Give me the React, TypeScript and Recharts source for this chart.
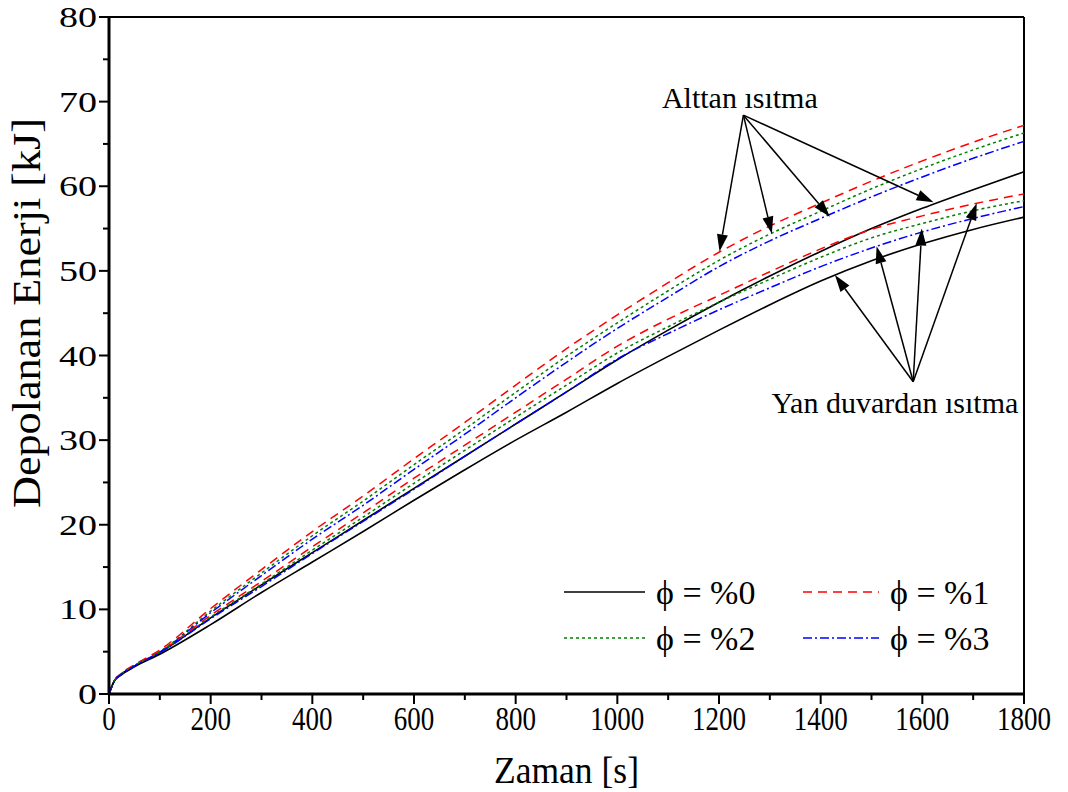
import {
  LineChart,
  Line,
  XAxis,
  YAxis,
  Label,
  Legend,
  ReferenceLine,
  ReferenceDot,
} from "recharts";

// time axis [s]
const time = [0, 10, 25, 50, 100, 200, 300, 400, 500, 600, 700, 800, 900, 1000, 1100, 1200, 1300, 1400, 1500, 1600, 1700, 1800];

// Alttan ısıtma (bottom heating)
const alttan0 = [0, 1.5, 2.4, 3.3, 4.9, 9.0, 12.9, 16.7, 20.5, 24.3, 28.1, 31.9, 35.7, 39.5, 43.0, 46.3, 49.4, 52.3, 55.0, 57.4, 59.6, 61.7];
const alttan1 = [0, 1.5, 2.45, 3.45, 5.2, 10.1, 14.7, 19.2, 23.4, 27.8, 32.1, 36.5, 40.8, 44.8, 48.6, 52.2, 55.3, 58.0, 60.6, 63.0, 65.2, 67.2];
const alttan2 = [0, 1.5, 2.4, 3.35, 5.0, 9.8, 14.3, 18.7, 22.8, 27.1, 31.3, 35.65, 39.9, 43.85, 47.65, 51.25, 54.35, 57.05, 59.7, 62.1, 64.3, 66.3];
const alttan3 = [0, 1.5, 2.35, 3.3, 4.95, 9.6, 14.0, 18.3, 22.3, 26.55, 30.7, 35.0, 39.2, 43.2, 46.9, 50.5, 53.55, 56.2, 58.75, 61.1, 63.3, 65.3];

// Yan duvardan ısıtma (side wall heating)
const yan0 = [0, 1.5, 2.3, 3.2, 4.7, 8.2, 12.0, 15.6, 19.2, 22.9, 26.5, 30.0, 33.3, 36.7, 39.9, 43.0, 46.0, 48.8, 51.2, 53.2, 54.9, 56.35];
const yan1 = [0, 1.5, 2.45, 3.4, 5.0, 9.3, 13.3, 17.4, 21.4, 25.5, 29.4, 33.3, 37.2, 41.1, 44.3, 47.1, 49.9, 52.6, 54.9, 56.5, 57.9, 59.1];
const yan2 = [0, 1.5, 2.4, 3.35, 4.95, 9.1, 13.0, 17.0, 20.9, 24.9, 28.8, 32.7, 36.5, 40.3, 43.4, 46.3, 49.0, 51.6, 53.9, 55.6, 57.1, 58.3];
const yan3 = [0, 1.5, 2.35, 3.3, 4.9, 8.9, 12.7, 16.6, 20.4, 24.2, 28.1, 31.9, 35.7, 39.6, 42.6, 45.4, 48.0, 50.5, 52.7, 54.6, 56.2, 57.6];

const xTicks = [0, 100, 200, 300, 400, 500, 600, 700, 800, 900, 1000, 1100, 1200, 1300, 1400, 1500, 1600, 1700, 1800];
const yTicks = [0, 5, 10, 15, 20, 25, 30, 35, 40, 45, 50, 55, 60, 65, 70, 75, 80];

const phiLabels = ["\u03d5 = %0", "\u03d5 = %1", "\u03d5 = %2", "\u03d5 = %3"];

// annotation anchors (data coordinates)
const alttanText = { x: 1241, y: 70.5 };
const alttanFrom = { x: 1248, y: 68.4 };
const alttanTips = [
  { x: 1201, y: 52.3 },
  { x: 1304, y: 54.4 },
  { x: 1418, y: 56.4 },
  { x: 1622, y: 58.1 },
];
const yanText = { x: 1546, y: 34.5 };
const yanFrom = { x: 1582, y: 36.9 };
const yanTips = [
  { x: 1428, y: 49.5 },
  { x: 1510, y: 52.9 },
  { x: 1599, y: 55.0 },
  { x: 1707, y: 58.0 },
];

const rows = time.map((t, i) => ({
  t,
  alttan0: alttan0[i],
  alttan1: alttan1[i],
  alttan2: alttan2[i],
  alttan3: alttan3[i],
  yan0: yan0[i],
  yan1: yan1[i],
  yan2: yan2[i],
  yan3: yan3[i],
}));

const FONT = '"Liberation Serif", "Times New Roman", serif';

const styles = [
  { color: "#000000", dash: undefined, width: 1.6 },
  { color: "#ff0000", dash: "9 6", width: 1.5 },
  { color: "#008000", dash: "3 3", width: 1.5 },
  { color: "#0000ff", dash: "9 3 2 3", width: 1.5 },
];

const series = [
  { key: "alttan0", phi: 0, legend: true },
  { key: "alttan1", phi: 1, legend: true },
  { key: "alttan2", phi: 2, legend: true },
  { key: "alttan3", phi: 3, legend: true },
  { key: "yan0", phi: 0, legend: false },
  { key: "yan1", phi: 1, legend: false },
  { key: "yan2", phi: 2, legend: false },
  { key: "yan3", phi: 3, legend: false },
];

const XTick = (props: any) => {
  const { x, y, payload } = props;
  const v = payload.value;
  const major = v % 200 === 0;
  const s = String(v);
  return (
    <g>
      <line x1={x} x2={x} y1={y} y2={y + (major ? 10 : 6)} stroke="#000" strokeWidth={2} />
      {major && (
        <text
          x={x}
          y={y + 36}
          textAnchor="middle"
          fontFamily={FONT}
          fontSize={34}
          textLength={13.5 * s.length}
          lengthAdjust="spacingAndGlyphs"
          fill="#000"
        >
          {s}
        </text>
      )}
    </g>
  );
};

const YTick = (props: any) => {
  const { x, y, payload } = props;
  const v = payload.value;
  const major = v % 10 === 0;
  const s = String(v);
  return (
    <g>
      <line x1={x} x2={x - (major ? 10 : 6)} y1={y} y2={y} stroke="#000" strokeWidth={2} />
      {major && (
        <text
          x={x - 12}
          y={y + 10}
          textAnchor="end"
          fontFamily={FONT}
          fontSize={29}
          textLength={19 * s.length}
          lengthAdjust="spacingAndGlyphs"
          fill="#000"
        >
          {s}
        </text>
      )}
    </g>
  );
};

const XTitle = (props: any) => {
  const vb = props.viewBox || { x: 109, y: 694, width: 915, height: 60 };
  return (
    <text
      x={vb.x + vb.width / 2}
      y={vb.y + 89}
      textAnchor="middle"
      fontFamily={FONT}
      fontSize={37}
      textLength={145}
      lengthAdjust="spacingAndGlyphs"
      fill="#000"
    >
      Zaman [s]
    </text>
  );
};

const YTitle = () => (
  <text
    x={40}
    y={313}
    transform="rotate(-90 40 313)"
    textAnchor="middle"
    fontFamily={FONT}
    fontSize={41}
    textLength={390}
    lengthAdjust="spacingAndGlyphs"
    fill="#000"
  >
    Depolanan Enerji [kJ]
  </text>
);

const Arrow = (props: any) => {
  const x1 = Number(props.x1);
  const y1 = Number(props.y1);
  const x2 = Number(props.x2);
  const y2 = Number(props.y2);
  const dx = x2 - x1;
  const dy = y2 - y1;
  const len = Math.hypot(dx, dy) || 1;
  const ux = dx / len;
  const uy = dy / len;
  const L = 17;
  const W = 5.5;
  const bx = x2 - ux * L;
  const by = y2 - uy * L;
  const pts = `${x2},${y2} ${bx - uy * W},${by + ux * W} ${bx + uy * W},${by - ux * W}`;
  return (
    <g>
      <line x1={x1} y1={y1} x2={bx} y2={by} stroke="#000" strokeWidth={1.5} />
      <polygon points={pts} fill="#000" />
    </g>
  );
};

const textShape = (label: string) => (props: any) => (
  <text
    x={props.cx}
    y={props.cy}
    textAnchor="middle"
    dominantBaseline="central"
    fontFamily={FONT}
    fontSize={30}
    fill="#000"
  >
    {label}
  </text>
);

const LegendBox = (props: any) => {
  const payload = (props.payload || []).filter((p: any) => p.type !== "none");
  return (
    <svg width={480} height={100}>
      {payload.map((entry: any, i: number) => {
        const s = series.find((d) => d.key === entry.dataKey);
        const st = styles[s ? s.phi : i];
        const col = i % 2;
        const row = Math.floor(i / 2);
        const lx = col === 0 ? 16 : 255;
        const lw = col === 0 ? 81 : 76;
        const ly = row === 0 ? 24 : 70;
        return (
          <g key={entry.dataKey}>
            <line x1={lx} x2={lx + lw} y1={ly} y2={ly} stroke={st.color} strokeDasharray={st.dash} strokeWidth={1.5} />
            <text
              x={lx + lw + 11}
              y={ly}
              dominantBaseline="central"
              fontFamily={FONT}
              fontSize={34}
              fill="#000"
            >
              {entry.value}
            </text>
          </g>
        );
      })}
    </svg>
  );
};

export default function App() {
  return (
    <div style={{ position: "absolute", left: 0, top: 0, width: 1068, height: 792 }}>
      <LineChart width={1068} height={792} data={rows} margin={{ top: 17, right: 44, left: 49, bottom: 38 }}>
        <XAxis
          dataKey="t"
          type="number"
          domain={[0, 1800]}
          ticks={xTicks}
          interval={0}
          tickSize={0}
          tickMargin={0}
          tickLine={false}
          axisLine={{ stroke: "#000", strokeWidth: 3 }}
          height={60}
          tick={XTick}
        >
          <Label content={XTitle} />
        </XAxis>
        <YAxis
          type="number"
          domain={[0, 80]}
          ticks={yTicks}
          interval={0}
          tickSize={0}
          tickMargin={0}
          tickLine={false}
          axisLine={{ stroke: "#000", strokeWidth: 3 }}
          width={60}
          tick={YTick}
        >
          <Label content={YTitle} />
        </YAxis>
        <ReferenceLine y={80} stroke="#000" strokeWidth={2} />
        <ReferenceLine x={1800} stroke="#000" strokeWidth={2} />

        {series.map((s) => (
          <Line
            key={s.key}
            dataKey={s.key}
            name={phiLabels[s.phi]}
            type="monotone"
            stroke={styles[s.phi].color}
            strokeDasharray={styles[s.phi].dash}
            strokeWidth={styles[s.phi].width}
            dot={false}
            activeDot={false}
            legendType={s.legend ? "line" : "none"}
            isAnimationActive={false}
          />
        ))}

        {alttanTips.map((tip, i) => (
          <ReferenceLine key={`a${i}`} segment={[alttanFrom, tip]} shape={Arrow} />
        ))}
        {yanTips.map((tip, i) => (
          <ReferenceLine key={`y${i}`} segment={[yanFrom, tip]} shape={Arrow} />
        ))}
        <ReferenceDot x={alttanText.x} y={alttanText.y} r={0} shape={textShape("Alttan ısıtma")} />
        <ReferenceDot x={yanText.x} y={yanText.y} r={0} shape={textShape("Yan duvardan ısıtma")} />

        <Legend
          layout="vertical"
          align="center"
          verticalAlign="middle"
          content={LegendBox}
          wrapperStyle={{ left: 548, top: 568, width: 480, height: 100 }}
        />
      </LineChart>
    </div>
  );
}
